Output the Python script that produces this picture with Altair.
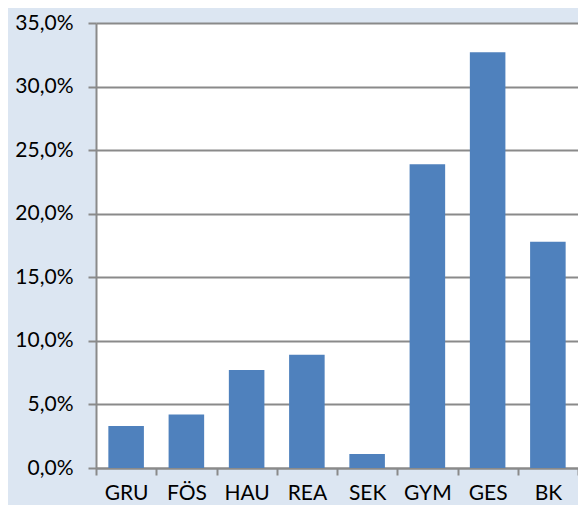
import altair as alt
import pandas as pd

categories = ["GRU", "FÖS", "HAU", "REA", "SEK", "GYM", "GES", "BK"]
shares = [0.033, 0.042, 0.077, 0.089, 0.011, 0.239, 0.327, 0.178]

df = pd.DataFrame({"cat": categories, "share": shares})

FONT = "Lato"

chart = alt.Chart(df).mark_bar(
    color="#4f81bd", width=alt.RelativeBandSize(0.59)
).encode(
    x=alt.X("cat:N", sort=categories, title=None,
            scale=alt.Scale(paddingInner=0, paddingOuter=0),
            axis=alt.Axis(labelAngle=0, tickBand="extent", grid=False,
                          domainColor="#8a8a8a", domainWidth=2,
                          tickColor="#8a8a8a", tickWidth=2, tickSize=7,
                          labelPadding=7, labelFontSize=21, labelFont=FONT,
                          labelColor="#000000")),
    y=alt.Y("share:Q", title=None,
            scale=alt.Scale(domain=[0, 0.35], nice=False),
            axis=alt.Axis(values=[0, 0.05, 0.10, 0.15, 0.20, 0.25, 0.30, 0.35],
                          labelExpr="replace(format(datum.value, '.1%'), '.', ',')",
                          grid=True, gridColor="#8a8a8a", gridWidth=2,
                          domainColor="#8a8a8a", domainWidth=2,
                          tickColor="#8a8a8a", tickWidth=2, tickSize=8,
                          labelPadding=15, labelFontSize=21, labelFont=FONT,
                          labelColor="#000000")),
).properties(
    width=482, height=445,
    background="#dce6f2",
    autosize=alt.AutoSizeParams(type="none"),
    padding={"left": 88, "top": 15, "right": 0, "bottom": 37},
).configure_view(
    fill="#ffffff", stroke=None
)

chart.save("out.html", embed_options={"renderer": "svg", "actions": False})
